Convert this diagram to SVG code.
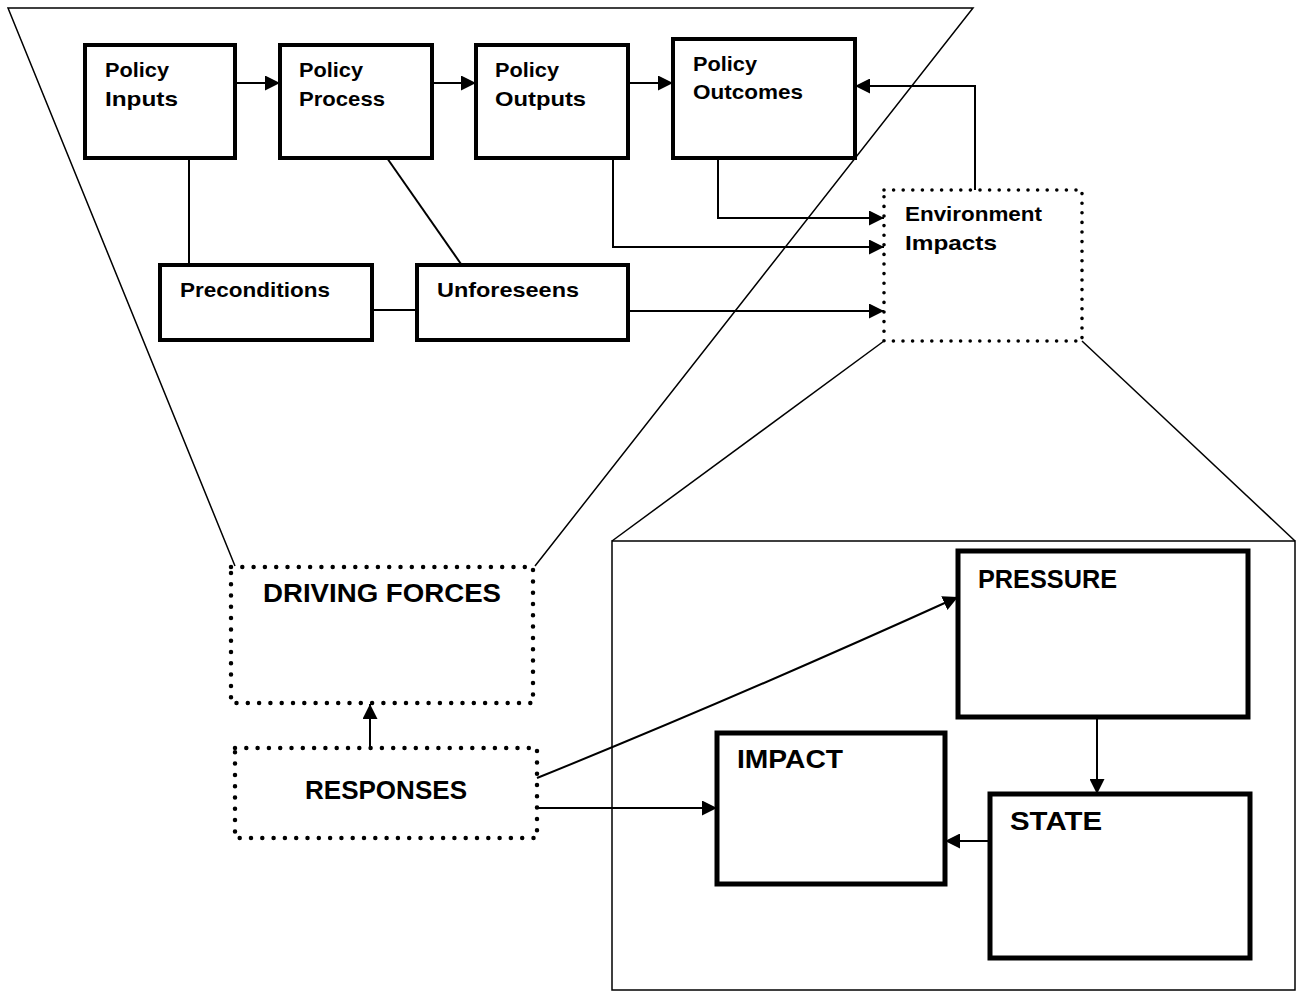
<svg xmlns="http://www.w3.org/2000/svg" width="1298" height="999" viewBox="0 0 1298 999">
<defs>
<style>
.box{fill:#fff;stroke:#000;stroke-width:4}
.bbox{fill:#fff;stroke:#000;stroke-width:5}
.dot{fill:none;stroke:#000;stroke-width:4.5;stroke-linecap:round;stroke-dasharray:0 11.3}
.dots{fill:none;stroke:#000;stroke-width:3.6;stroke-linecap:round;stroke-dasharray:0 9.6}
.thin{fill:none;stroke:#000;stroke-width:1.5}
.con{fill:none;stroke:#000;stroke-width:2;marker-end:url(#ahb)}
.ln{fill:none;stroke:#000;stroke-width:2}
text{font-family:"Comic Sans MS","Liberation Sans",Arial,sans-serif;font-weight:bold;fill:#000}
.t20{font-size:21px}
.t22{font-size:25px}
</style>
<marker id="ahb" viewBox="0 0 10 10" refX="10" refY="5" markerWidth="15" markerHeight="15" markerUnits="userSpaceOnUse" orient="auto">
<path d="M0,0 L10,5 L0,10 z" fill="#000"/>
</marker>
</defs>
<rect width="1298" height="999" fill="#fff"/>
<g id="frame">
<polyline class="thin" points="235,566 8,8 973,8 535,566"/>
<rect class="thin" x="612" y="541" width="683" height="449"/>
<line class="thin" x1="884" y1="341" x2="612" y2="541"/>
<line class="thin" x1="1082" y1="341" x2="1295" y2="541"/>
</g>
<g id="connectors">
<line class="con" x1="235" y1="83" x2="280" y2="83"/>
<line class="con" x1="432" y1="83" x2="476" y2="83"/>
<line class="con" x1="628" y1="83" x2="673" y2="83"/>
<polyline class="con" points="975,190 975,86 855,86"/>
<polyline class="con" points="718,158 718,218 884,218"/>
<polyline class="con" points="613,158 613,247 884,247"/>
<line class="con" x1="629" y1="311" x2="884" y2="311"/>
<line class="ln" x1="189" y1="158" x2="189" y2="264"/>
<line class="ln" x1="387" y1="158" x2="461" y2="264"/>
<line class="ln" x1="372" y1="310" x2="417" y2="310"/>
<line class="con" x1="370" y1="748" x2="370" y2="704"/>
<path class="con" d="M537,778 Q735,698 958,597"/>
<line class="con" x1="537" y1="808" x2="717" y2="808"/>
<line class="con" x1="1097" y1="717" x2="1097" y2="794"/>
<line class="con" x1="990" y1="841" x2="945" y2="841"/>
</g>
<g id="policy-inputs">
<rect class="box" x="85" y="45" width="150" height="113"/>
<text class="t20" x="105" y="77" textLength="64" lengthAdjust="spacingAndGlyphs">Policy</text>
<text class="t20" x="105" y="106" textLength="73" lengthAdjust="spacingAndGlyphs">Inputs</text>
</g>
<g id="policy-process">
<rect class="box" x="280" y="45" width="152" height="113"/>
<text class="t20" x="299" y="77" textLength="64" lengthAdjust="spacingAndGlyphs">Policy</text>
<text class="t20" x="299" y="106" textLength="86" lengthAdjust="spacingAndGlyphs">Process</text>
</g>
<g id="policy-outputs">
<rect class="box" x="476" y="45" width="152" height="113"/>
<text class="t20" x="495" y="77" textLength="64" lengthAdjust="spacingAndGlyphs">Policy</text>
<text class="t20" x="495" y="106" textLength="91" lengthAdjust="spacingAndGlyphs">Outputs</text>
</g>
<g id="policy-outcomes">
<rect class="box" x="673" y="39" width="182" height="119"/>
<text class="t20" x="693" y="71" textLength="64" lengthAdjust="spacingAndGlyphs">Policy</text>
<text class="t20" x="693" y="99" textLength="110" lengthAdjust="spacingAndGlyphs">Outcomes</text>
</g>
<g id="environment-impacts">
<rect class="dots" x="884" y="190" width="198" height="151"/>
<text class="t20" x="905" y="221" textLength="137" lengthAdjust="spacingAndGlyphs">Environment</text>
<text class="t20" x="905" y="250" textLength="92" lengthAdjust="spacingAndGlyphs">Impacts</text>
</g>
<g id="preconditions">
<rect class="box" x="160" y="265" width="212" height="75"/>
<text class="t20" x="180" y="297" textLength="150" lengthAdjust="spacingAndGlyphs">Preconditions</text>
</g>
<g id="unforeseens">
<rect class="box" x="417" y="265" width="211" height="75"/>
<text class="t20" x="437" y="297" textLength="142" lengthAdjust="spacingAndGlyphs">Unforeseens</text>
</g>
<g id="driving-forces">
<rect class="dot" x="231" y="567" width="302" height="136"/>
<text class="t22" x="263" y="602" textLength="238" lengthAdjust="spacingAndGlyphs">DRIVING FORCES</text>
</g>
<g id="responses">
<rect class="dot" x="235" y="748" width="302" height="90"/>
<text class="t22" x="305" y="799" textLength="162" lengthAdjust="spacingAndGlyphs">RESPONSES</text>
</g>
<g id="pressure">
<rect class="bbox" x="958" y="551" width="290" height="166"/>
<text class="t22" x="978" y="588" textLength="139" lengthAdjust="spacingAndGlyphs">PRESSURE</text>
</g>
<g id="impact">
<rect class="bbox" x="717" y="733" width="228" height="151"/>
<text class="t22" x="737" y="768" textLength="106" lengthAdjust="spacingAndGlyphs">IMPACT</text>
</g>
<g id="state">
<rect class="bbox" x="990" y="794" width="260" height="164"/>
<text class="t22" x="1010" y="830" textLength="92" lengthAdjust="spacingAndGlyphs">STATE</text>
</g>
</svg>
